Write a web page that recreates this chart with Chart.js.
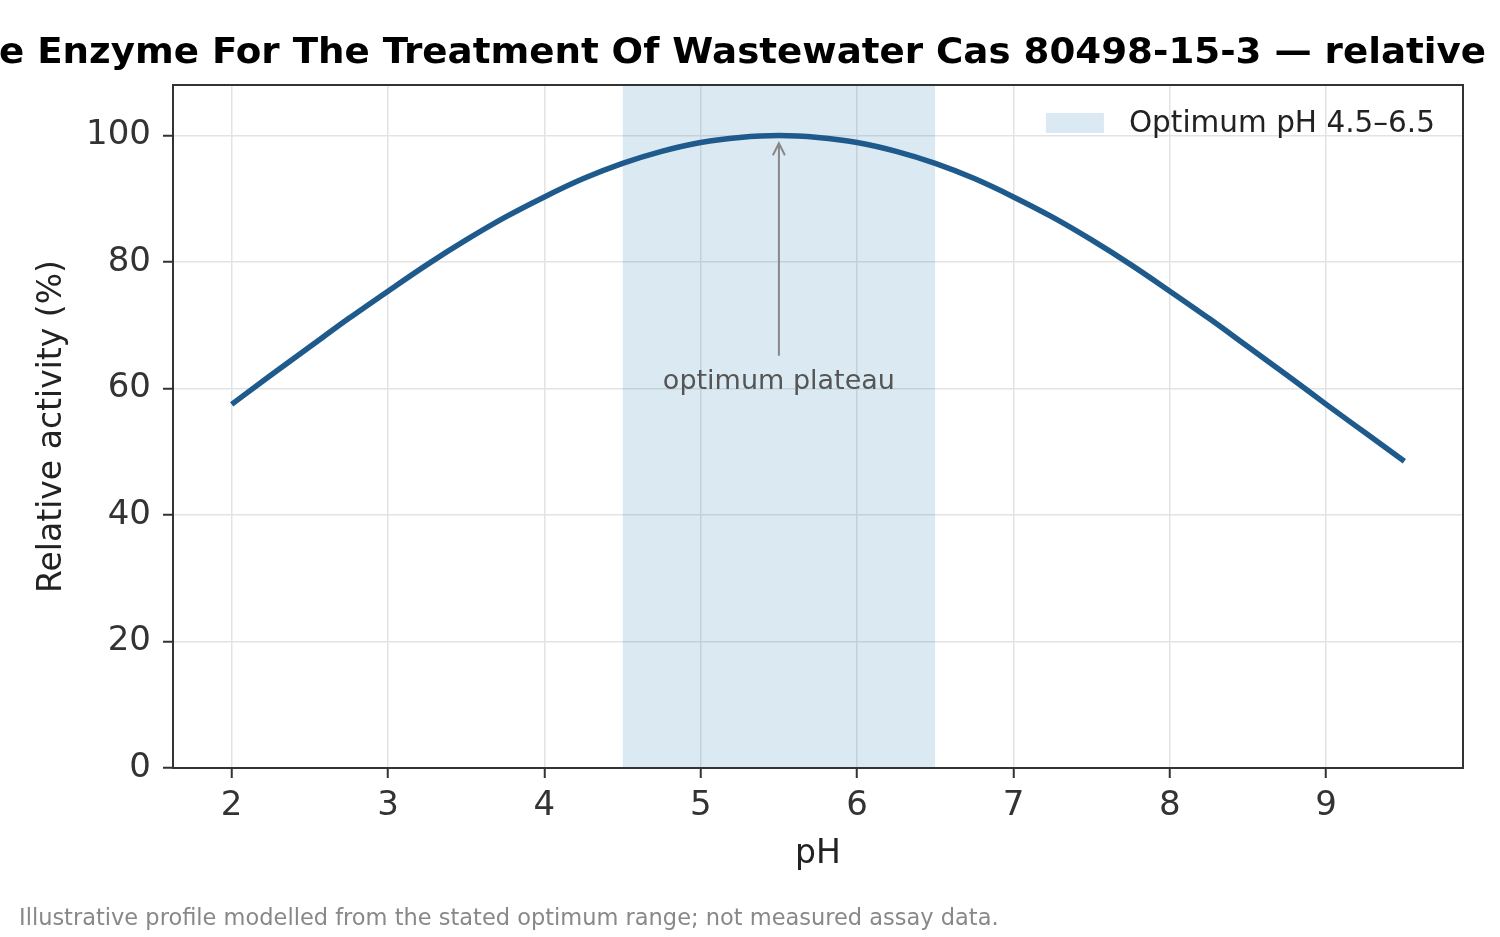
<!DOCTYPE html>
<html>
<head>
<meta charset="utf-8">
<script src="https://cdn.jsdelivr.net/npm/chart.js@4.4.1/dist/chart.umd.min.js"></script>
<style>
  html, body { margin: 0; padding: 0; background: #ffffff; }
  #chart { display: block; }
</style>
</head>
<body>
<canvas id="chart" width="1500" height="937"></canvas>
<script>
// pH profile
const phValues = [2.0, 2.25, 2.5, 2.75, 3.0, 3.25, 3.5, 3.75, 4.0, 4.25, 4.5, 4.75, 5.0, 5.25, 5.5,
                  5.75, 6.0, 6.25, 6.5, 6.75, 7.0, 7.25, 7.5, 7.75, 8.0, 8.25, 8.5, 8.75, 9.0, 9.25, 9.5];
const activityValues = [57.5, 62.1, 66.6, 71.1, 75.4, 79.6, 83.5, 87.1, 90.3, 93.2, 95.6, 97.5, 98.9, 99.7, 100,
                        99.7, 98.9, 97.5, 95.6, 93.2, 90.3, 87.1, 83.5, 79.6, 75.4, 71.1, 66.6, 62.1, 57.5, 53.0, 48.5];
const optimumRange = [4.5, 6.5];
const xTickValues = [2, 3, 4, 5, 6, 7, 8, 9];
const yTickValues = [0, 20, 40, 60, 80, 100];
const xLimits = [1.625, 9.875];
const yLimits = [0, 108];

// annotation (data units)
const peakPh = 5.5;
const arrowFrom = 65.2;
const arrowTo = 98.8;
const noteY = 60.0;
const noteText = 'optimum plateau';

// the title is wider than the figure, only this part shows
const titleText = 'e Enzyme For The Treatment Of Wastewater Cas 80498-15-3 — relative';

const FONT = "'DejaVu Sans', sans-serif";

const curvePoints = phValues.map((x, i) => ({ x: x, y: activityValues[i] }));
const bandPoints = optimumRange.map(x => ({ x: x, y: yLimits[1] }));

// Frame around the plot area
const framePlugin = {
    id: 'frame',
    afterDatasetsDraw(chart) {
        const { ctx, chartArea } = chart;
        ctx.save();
        ctx.strokeStyle = '#333333';
        ctx.lineWidth = 2;
        ctx.strokeRect(chartArea.left, chartArea.top, chartArea.right - chartArea.left, chartArea.bottom - chartArea.top);
        ctx.restore();
    }
};

// Arrow + note
const notePlugin = {
    id: 'note',
    afterDatasetsDraw(chart) {
        const { ctx, scales } = chart;
        const px = scales.x.getPixelForValue(peakPh);
        const y0 = scales.y.getPixelForValue(arrowFrom);
        const y1 = scales.y.getPixelForValue(arrowTo);
        ctx.save();
        ctx.strokeStyle = '#888888';
        ctx.lineWidth = 2;
        ctx.beginPath();
        ctx.moveTo(px, y0);
        ctx.lineTo(px, y1);
        ctx.moveTo(px - 6, y1 + 12);
        ctx.lineTo(px, y1);
        ctx.lineTo(px + 6, y1 + 12);
        ctx.stroke();
        ctx.fillStyle = '#555555';
        ctx.font = '27px ' + FONT;
        ctx.textAlign = 'center';
        ctx.textBaseline = 'alphabetic';
        ctx.fillText(noteText, px, scales.y.getPixelForValue(noteY));
        ctx.restore();
    }
};

// Legend inside the plot, top right
const legendPlugin = {
    id: 'insideLegend',
    afterDatasetsDraw(chart) {
        const { ctx, chartArea } = chart;
        const ds = chart.data.datasets[1];
        ctx.save();
        ctx.font = '29.5px ' + FONT;
        const textRight = chartArea.right - 28;
        const textLeft = textRight - ctx.measureText(ds.label).width;
        ctx.fillStyle = ds.backgroundColor;
        ctx.fillRect(textLeft - 25 - 58, chartArea.top + 28, 58, 20);
        ctx.fillStyle = '#222222';
        ctx.textBaseline = 'alphabetic';
        ctx.fillText(ds.label, textLeft, chartArea.top + 47);
        ctx.restore();
    }
};

// Bold title, clipped at both sides like the reference
const titlePlugin = {
    id: 'clippedTitle',
    afterDraw(chart) {
        const ctx = chart.ctx;
        ctx.save();
        ctx.font = 'bold 100px ' + FONT;
        const wb = ctx.measureText(titleText).width;
        ctx.font = '100px ' + FONT;
        const wr = ctx.measureText(titleText).width;
        const realBold = wb / wr > 1.07;
        ctx.font = (realBold ? 'bold 36px ' : '34px ') + FONT;
        const sx = 1487 / ctx.measureText(titleText).width;
        ctx.translate(-1, 63);
        ctx.scale(sx, 1);
        ctx.fillStyle = '#000000';
        ctx.textBaseline = 'alphabetic';
        ctx.fillText(titleText, 0, 0);
        if (!realBold) {
            ctx.strokeStyle = '#000000';
            ctx.lineWidth = 2.2;
            ctx.lineJoin = 'round';
            ctx.strokeText(titleText, 0, 0);
        }
        ctx.restore();
    }
};

new Chart(document.getElementById('chart'), {
    type: 'line',
    data: {
        datasets: [{
            label: 'Relative activity',
            data: curvePoints,
            borderColor: '#1f5a8c',
            borderWidth: 5.5,
            pointRadius: 0,
            fill: false,
            tension: 0.4,
            cubicInterpolationMode: 'monotone'
        }, {
            label: 'Optimum pH 4.5–6.5',
            data: bandPoints,
            borderWidth: 0,
            borderColor: 'rgba(0,0,0,0)',
            backgroundColor: 'rgba(31, 119, 180, 0.16)',
            pointRadius: 0,
            fill: 'origin',
            tension: 0
        }]
    },
    options: {
        responsive: false,
        animation: false,
        layout: { padding: { left: 19, right: 37, top: 85, bottom: 0 } },
        scales: {
            x: {
                type: 'linear',
                min: xLimits[0],
                max: xLimits[1],
                afterBuildTicks: scale => { scale.ticks = xTickValues.map(v => ({ value: v })); },
                afterFit: scale => { scale.height = 138; },
                grid: { color: '#e3e3e3', lineWidth: 1.5, tickColor: '#333333', tickLength: 10, tickWidth: 2 },
                border: { display: false },
                ticks: { font: { family: FONT, size: 34 }, color: '#333333', padding: 8, maxRotation: 0 },
                title: { display: true, text: 'pH', font: { family: FONT, size: 33 }, color: '#222222', padding: { top: 0, bottom: 32 } }
            },
            y: {
                min: yLimits[0],
                max: yLimits[1],
                afterBuildTicks: scale => { scale.ticks = yTickValues.map(v => ({ value: v })); },
                afterFit: scale => { scale.width = 154; },
                grid: { color: '#e3e3e3', lineWidth: 1.5, tickColor: '#333333', tickLength: 10, tickWidth: 2 },
                border: { display: false },
                ticks: { font: { family: FONT, size: 34 }, color: '#333333', padding: 12 },
                title: { display: true, text: 'Relative activity (%)', font: { family: FONT, size: 33 }, color: '#222222', padding: { top: 14, bottom: 0 } }
            }
        },
        plugins: {
            title: { display: false },
            subtitle: {
                display: true,
                position: 'bottom',
                align: 'start',
                text: 'Illustrative profile modelled from the stated optimum range; not measured assay data.',
                font: { family: FONT, size: 22.5 },
                color: '#888888',
                padding: { top: 0, bottom: 4 }
            },
            legend: { display: false },
            tooltip: { enabled: false }
        }
    },
    plugins: [framePlugin, notePlugin, legendPlugin, titlePlugin]
});
</script>
</body>
</html>
